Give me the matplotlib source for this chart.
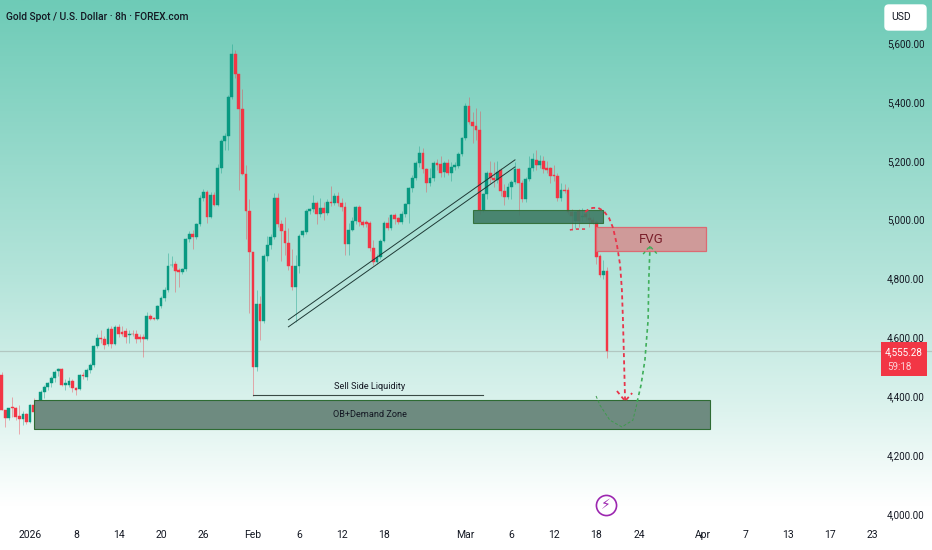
import numpy as np
import matplotlib
matplotlib.use("Agg")
import matplotlib.pyplot as plt
from matplotlib.colors import LinearSegmentedColormap
from matplotlib.patches import FancyBboxPatch, Rectangle

plt.rcParams['font.family'] = ['Roboto', 'DejaVu Sans']

# 8h candles
opens = [4472,4354,4325,4363,4361,4333,4323,4339,4312,4370,
         4352,4325,4416,4430,4444,4463,4487,4492,4438,4438,
         4452,4427,4425,4472,4467,4489,4506,4572,4597,4595,
         4577,4628,4578,4637,4620,4623,4608,4612,4613,4602,
         4602,4594,4673,4665,4662,4708,4735,4761,4846,4848,
         4829,4823,4831,4934,4951,4940,4985,5075,5095,5008,
         5084,5050,5177,5268,5284,5415,5561,5495,5375,5155,
         5030,4891,4498,4714,4656,4878,4914,4942,5075,4985,
         4963,4920,4844,4772,4844,4948,4959,5029,5036,5055,
         5019,5038,5021,5061,5057,5080,5057,5044,4917,4965,
         4995,5042,4991,4991,4990,4905,4857,4874,4928,4990,
         4970,5015,5004,4993,5019,5052,5106,5142,5191,5225,
         5171,5123,5140,5193,5188,5163,5191,5159,5180,5182,
         5223,5276,5386,5330,5318,5306,5032,5086,5159,5143,
         5134,5168,5097,5078,5112,5129,5171,5123,5069,5137,
         5177,5202,5186,5199,5174,5174,5151,5149,5074,5100,
         5100,5027,4996,5030,5010,5020,5005,5000,4993,4877,
         4812,4824]
closes = [4354,4325,4359,4360,4331,4323,4339,4312,4370,4346,
          4325,4416,4433,4444,4463,4484,4492,4438,4444,4452,
          4427,4422,4472,4470,4489,4506,4572,4597,4595,4575,
          4628,4578,4637,4611,4611,4603,4611,4610,4594,4594,
          4594,4673,4662,4664,4708,4735,4761,4844,4847,4827,
          4823,4831,4934,4950,4940,4985,5075,5095,5008,5084,
          5050,5177,5268,5284,5415,5561,5495,5375,5155,5030,
          4891,4498,4714,4656,4878,4914,4942,5075,4985,4963,
          4920,4844,4772,4844,4946,4961,5029,5036,5055,5019,
          5038,5021,5061,5057,5080,5055,5042,4917,4965,4995,
          5042,4991,4983,4985,4905,4857,4874,4928,4990,4970,
          5015,5001,4993,5019,5052,5106,5142,5191,5225,5171,
          5123,5140,5191,5185,5160,5191,5159,5180,5184,5223,
          5276,5386,5330,5318,5306,5032,5086,5159,5143,5134,
          5163,5097,5078,5112,5129,5171,5125,5069,5137,5177,
          5205,5186,5198,5172,5170,5149,5148,5074,5100,5097,
          5027,5012,5027,4996,5014,5010,5000,4990,4874,4812,
          4824,4555.28]
highs = [4481,4354,4359,4399,4365,4370,4350,4345,4375,4395,
         4365,4420,4440,4450,4470,4490,4497,4495,4460,4465,
         4460,4430,4475,4482,4495,4512,4575,4610,4625,4605,
         4635,4640,4642,4645,4640,4632,4625,4625,4625,4610,
         4610,4685,4680,4668,4710,4740,4770,4886,4877,4860,
         4835,4835,4938,4960,4965,4990,5085,5105,5100,5095,
         5095,5190,5275,5295,5425,5597,5575,5495,5445,5185,
         5070,4891,4760,4740,4885,4945,4950,5090,5090,5000,
         5010,4970,4900,4880,4950,4965,5035,5040,5085,5065,
         5075,5060,5070,5115,5090,5095,5075,5060,4990,5010,
         5045,5050,5000,4998,4995,4930,4885,4935,4995,5010,
         5020,5022,5010,5030,5058,5110,5150,5200,5250,5245,
         5175,5175,5200,5205,5215,5200,5205,5195,5195,5230,
         5280,5395,5418,5365,5378,5370,5090,5165,5200,5195,
         5200,5175,5120,5125,5135,5195,5175,5135,5145,5215,
         5225,5235,5220,5215,5200,5180,5185,5160,5125,5120,
         5110,5035,5030,5035,5040,5030,5025,5010,4998,4885,
         4863,4840]
lows = [4354,4297,4320,4331,4320,4271,4302,4305,4310,4340,
        4318,4318,4395,4420,4430,4450,4470,4435,4420,4430,
        4415,4405,4420,4460,4455,4480,4500,4565,4580,4560,
        4570,4565,4575,4600,4605,4580,4580,4605,4580,4585,
        4535,4590,4658,4660,4658,4700,4725,4755,4840,4755,
        4770,4815,4825,4925,4900,4935,4980,5065,4988,5005,
        5045,5045,5160,5235,5235,5410,5480,5100,5150,4935,
        4682,4402,4485,4592,4650,4860,4900,4935,4975,4860,
        4880,4830,4760,4653,4820,4940,4950,5020,5025,4985,
        5010,5000,5015,5045,5050,5045,5030,4880,4880,4960,
        4985,4980,4975,4975,4895,4845,4850,4865,4925,4965,
        4965,4985,4985,4985,5010,4987,5095,5135,5180,5160,
        5095,5115,5130,5170,5145,5145,5150,5130,5170,5175,
        5215,5270,5325,5260,5270,5020,5025,5070,5120,5110,
        5125,5080,5050,5070,5070,5120,5015,5060,5060,5130,
        5165,5170,5175,5160,5160,5125,5130,5065,5065,5090,
        5020,4965,4970,4975,4995,5000,4975,4985,4850,4805,
        4800,4530]

# axes labels
price_ticks = [4000, 4200, 4400, 4600, 4800, 5000, 5200, 5400, 5600]
date_pos = [8, 21, 33, 45, 57, 71, 84, 96, 108, 131, 144, 156, 168, 180, 198, 210, 222, 234, 246]
date_labels = ['2026', '8', '14', '20', '26', 'Feb', '6', '12', '18', 'Mar', '6', '12', '18', '24', 'Apr', '7', '13', '17', '23']
last_price = 4555.28

# drawings on top of the candles
ob_zone = (9, 200, 4289, 4386)
small_zone = (133, 170, 4987, 5033)
fvg_zone = (168, 199, 4893, 4975)
liq_x = [71, 136]
liq_y = [4404, 4404]
trend1_x = [81, 145]
trend1_y = [4660, 5203]
trend2_x = [81, 145]
trend2_y = [4636, 5179]
red_x = [164.8, 165.9, 167.0, 168.5, 170.1, 171.6, 172.7, 173.8, 174.7, 175.2, 175.5, 175.8, 176.1]
red_y = [5026, 5036, 5040, 5040, 5029, 5005, 4972, 4914, 4846, 4761, 4659, 4523, 4387]
red_head_x = [173.8, 176.1, 178.1]
red_head_y = [4418, 4384, 4411]
red_small_x = [160.5, 162, 163.5, 165]
red_small_y = [4965, 4968, 4968, 4968]
green_x = [179.5, 180.6, 181.7, 182.6, 182.8, 183.1, 183.1]
green_y = [4381, 4438, 4523, 4659, 4795, 4897, 4910]
green_head_x = [181.2, 183.1, 185.2]
green_head_y = [4883, 4910, 4883]
thin_x = [167.9, 169, 171.8, 175.2, 178.3, 179.5]
thin_y = [4401, 4370, 4319, 4296, 4319, 4377]

up_col = '#089981'
down_col = '#F23645'
text_col = '#131722'

fig = plt.figure(figsize=(9.32, 5.5), dpi=100)
ax = fig.add_axes([0, 0, 1, 1])
xlim = (-0.48, 262.8)
ylim = (3878, 5746)

# background gradient
bg = LinearSegmentedColormap.from_list('bg', [(0, '#6ECBB7'), (0.5, '#B4E4DA'), (0.75, '#DDF3EE'), (0.92, '#FFFFFF'), (1, '#FFFFFF')])
ax.imshow(np.linspace(0, 1, 256).reshape(-1, 1), cmap=bg, aspect='auto', extent=(*xlim, ylim[0], ylim[1]), origin='upper', zorder=0)

ax.axhline(last_price, color='#A9B8B3', lw=0.9, alpha=0.7, zorder=1)

# candles
x = np.arange(len(opens))
o = np.array(opens)
c = np.array(closes)
cols = [up_col if c[i] >= o[i] else down_col for i in x]
ax.vlines(x, lows, highs, colors=cols, lw=0.7, alpha=0.4, zorder=2)
ax.bar(x, np.abs(c - o), bottom=np.minimum(o, c), width=0.78, color=cols, edgecolor=cols, lw=0.3, zorder=3)

# zones
ax.add_patch(Rectangle((ob_zone[0], ob_zone[2]), ob_zone[1] - ob_zone[0], ob_zone[3] - ob_zone[2],
                       facecolor='#6E8B80', edgecolor='#2E6B33', lw=0.8, zorder=4))
ax.add_patch(Rectangle((small_zone[0], small_zone[2]), small_zone[1] - small_zone[0], small_zone[3] - small_zone[2],
                       facecolor='#3F7B66', edgecolor='#2E6B33', alpha=0.9, lw=0.8, zorder=4))
ax.add_patch(Rectangle((fvg_zone[0], fvg_zone[2]), fvg_zone[1] - fvg_zone[0], fvg_zone[3] - fvg_zone[2],
                       facecolor='#CF9A99', edgecolor='#DC6A72', lw=0.9, zorder=4))

ax.plot(liq_x, liq_y, color='#3A4A46', lw=0.8, zorder=5)
ax.plot(trend1_x, trend1_y, color='#1F3A36', lw=0.7, zorder=5)
ax.plot(trend2_x, trend2_y, color='#1F3A36', lw=0.7, zorder=5)

ax.plot(red_x, red_y, color='#E8344A', lw=1.3, ls=(0, (2.2, 1.8)), zorder=6)
ax.plot(red_head_x, red_head_y, color='#E8344A', lw=1.3, ls=(0, (2.2, 1.8)), zorder=6)
ax.plot(red_small_x, red_small_y, color='#E8344A', lw=1.1, ls=(0, (2, 2)), zorder=6)
ax.plot(green_x, green_y, color='#3FAE5A', lw=1.2, ls=(0, (2.2, 2)), zorder=6)
ax.plot(green_head_x, green_head_y, color='#3FAE5A', lw=1.0, ls=(0, (2.2, 2)), zorder=6)
ax.plot(thin_x, thin_y, color='#3F9A4E', lw=0.7, ls=(0, (3, 2)), zorder=6)

ax.text(104, 4434, 'Sell Side Liquidity', fontsize=6.6, color=text_col, ha='center', va='center', zorder=7)
ax.text(104, 4337, 'OB+Demand Zone', fontsize=6.6, color=text_col, ha='center', va='center', zorder=7)
ax.text(183.5, 4934, 'FVG', fontsize=9.5, color='#7A1F2B', ha='center', va='center', zorder=7)

# lightning mark
ax.plot([170.7], [4031], marker='o', ms=14.5, mfc='none', mec='#9C27B0', mew=1.2, zorder=7)
ax.text(170.7, 4031, '\u26a1', fontsize=10, color='#9C27B0', ha='center', va='center', family=['DejaVu Sans'], zorder=7)

ax.set_xlim(xlim)
ax.set_ylim(ylim)
for s in ax.spines.values():
    s.set_visible(False)

ax.yaxis.tick_right()
ax.set_yticks(price_ticks)
ax.set_yticklabels([f'{p:,.2f}' for p in price_ticks], fontsize=7.1, color=text_col)
ax.tick_params(axis='y', length=0, pad=-32.5)
ax.set_xticks(date_pos)
ax.set_xticklabels(date_labels, fontsize=7.5, color=text_col)
ax.tick_params(axis='x', length=0, pad=-14.5)

fig.text(6 / 932, 1 - 17.5 / 550, 'Gold Spot / U.S. Dollar \u00b7 8h \u00b7 FOREX.com', fontsize=7.4, fontweight='medium', color=text_col, va='center')

# usd button and last price tag, placed in figure fractions
ax.add_patch(FancyBboxPatch((885 / 932, 1 - 30 / 550), 41 / 932, 25 / 550, boxstyle='round,pad=0,rounding_size=0.004',
                            transform=ax.transAxes, facecolor='white', edgecolor='white', lw=1, mutation_aspect=1.7, zorder=8))
ax.text(891 / 932, 1 - 17.5 / 550, 'USD', transform=ax.transAxes, fontsize=7.5, color=text_col, va='center', zorder=9)
ax.add_patch(Rectangle((881 / 932, 1 - 376 / 550), 46 / 932, 34 / 550, transform=ax.transAxes, facecolor=down_col, edgecolor='none', zorder=8))
ax.text(923 / 932, 1 - 352 / 550, f'{last_price:,.2f}', transform=ax.transAxes, fontsize=7.1, color='white', ha='right', va='center', zorder=9)
ax.text(887 / 932, 1 - 367 / 550, '59:18', transform=ax.transAxes, fontsize=7.1, color='#FBD0D5', ha='left', va='center', zorder=9)

fig.savefig('out.png', dpi=100)
